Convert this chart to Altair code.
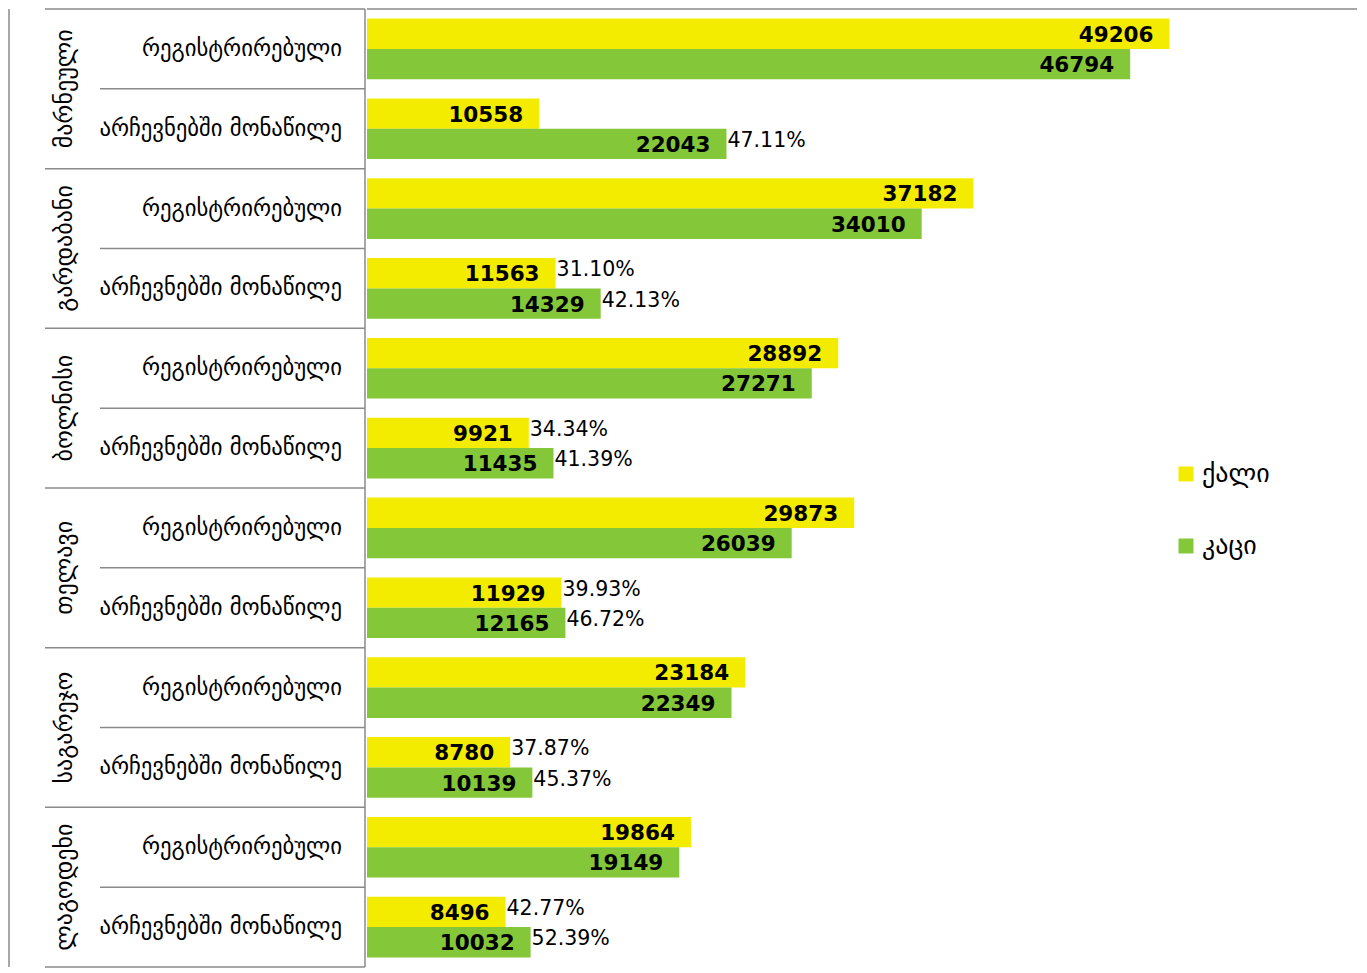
import altair as alt
import pandas as pd

regions = ["მარნეული", "გარდაბანი", "ბოლნისი", "თელავი", "საგარეჯო", "ლაგოდეხი"]
categories = ["რეგისტრირებული", "არჩევნებში მონაწილე"]
series = ["ქალი", "კაცი"]
female = [49206, 10558, 37182, 11563, 28892, 9921, 29873, 11929, 23184, 8780, 19864, 8496]
male = [46794, 22043, 34010, 14329, 27271, 11435, 26039, 12165, 22349, 10139, 19149, 10032]
female_pct = ["", "", "", "31.10%", "", "34.34%", "", "39.93%", "", "37.87%", "", "42.77%"]
male_pct = ["", "47.11%", "", "42.13%", "", "41.39%", "", "46.72%", "", "45.37%", "", "52.39%"]
colors = ["#F4EC00", "#84C83A"]

H = 958
LW = 357
RW = 990
GRAY = "#8a8a8a"
FONT = "DejaVu Sans"

rows = []
for i in range(12):
    rows.append({"row": i, "series": series[0], "value": female[i], "pct": female_pct[i]})
    rows.append({"row": i, "series": series[1], "value": male[i], "pct": male_pct[i]})
df = pd.DataFrame(rows)

ysc = alt.Scale(paddingInner=0.24, paddingOuter=0.12)
xsc = alt.Scale(domain=[0, 60700], nice=False, zero=True)
Y = alt.Y("row:O", scale=ysc, axis=None)
YO = alt.YOffset("series:N", sort=series, scale=alt.Scale(domain=series))
X = alt.X("value:Q", scale=xsc, axis=None)

base = alt.Chart(df)
bars = base.mark_bar().encode(
    x=X, y=Y, yOffset=YO,
    color=alt.Color("series:N", sort=series,
                    scale=alt.Scale(domain=series, range=colors),
                    legend=alt.Legend(title=None, orient="none", legendX=1165, legendY=452,
                                      symbolType="square", symbolSize=225, symbolStrokeWidth=0,
                                      labelFont=FONT, labelFontSize=26, labelColor="black",
                                      rowPadding=46, labelOffset=3)),
)
vals = base.mark_text(align="right", baseline="middle", dx=-16, dy=2, font=FONT,
                      fontWeight="bold", fontSize=21.5, color="black").encode(
    x=X, y=Y, yOffset=YO, text="value:Q")
pcts = base.mark_text(align="left", baseline="middle", dx=1, dy=-3, font=FONT,
                      fontSize=20.5, color="black").encode(
    x=X, y=Y, yOffset=YO, text="pct:N")
top_rule = alt.Chart(pd.DataFrame({"k": [0]})).mark_rule(color=GRAY, strokeWidth=1.5).encode(
    x=alt.value(0), x2=alt.value(RW), y=alt.value(0))

right = alt.layer(bars, vals, pcts, top_rule).properties(width=RW, height=H)

# left hierarchical axis
lab_rows = []
for r, reg in enumerate(regions):
    for c, cat in enumerate(categories):
        lab_rows.append({"pos": 2 * r + c + 0.5, "cat": cat})
lab_df = pd.DataFrame(lab_rows)
reg_df = pd.DataFrame({"pos": [2 * r + 1 for r in range(6)], "region": regions})
outer_df = pd.DataFrame({"pos": [2 * r for r in range(7)]})
inner_df = pd.DataFrame({"pos": [2 * r + 1 for r in range(6)]})

ly = alt.Scale(domain=[0, 12], reverse=True, nice=False, zero=False)
cat_text = alt.Chart(lab_df).mark_text(align="right", baseline="middle", font=FONT,
                                       fontSize=22.7, color="black").encode(
    x=alt.value(334), y=alt.Y("pos:Q", scale=ly, axis=None), text="cat:N")
reg_text = alt.Chart(reg_df).mark_text(align="center", baseline="middle", angle=270, font=FONT,
                                       fontSize=24, color="black").encode(
    x=alt.value(57), y=alt.Y("pos:Q", scale=ly, axis=None), text="region:N")
outer_rules = alt.Chart(outer_df).mark_rule(color=GRAY, strokeWidth=1.5).encode(
    x=alt.value(37), x2=alt.value(LW), y=alt.Y("pos:Q", scale=ly, axis=None))
inner_rules = alt.Chart(inner_df).mark_rule(color=GRAY, strokeWidth=1.5).encode(
    x=alt.value(92), x2=alt.value(LW), y=alt.Y("pos:Q", scale=ly, axis=None))
vlines = alt.Chart(pd.DataFrame({"k": [0]})).mark_rule(color=GRAY, strokeWidth=1.5).encode(
    x=alt.value(1), y=alt.value(0), y2=alt.value(H))
vlines2 = alt.Chart(pd.DataFrame({"k": [0]})).mark_rule(color=GRAY, strokeWidth=1.5).encode(
    x=alt.value(LW), y=alt.value(0), y2=alt.value(H))

left = alt.layer(outer_rules, inner_rules, vlines, vlines2, cat_text, reg_text).properties(width=LW, height=H)

chart = alt.hconcat(left, right, spacing=0).properties(padding=0).configure_view(stroke=None)
chart.save("out.html", embed_options={"renderer": "svg", "actions": False})
